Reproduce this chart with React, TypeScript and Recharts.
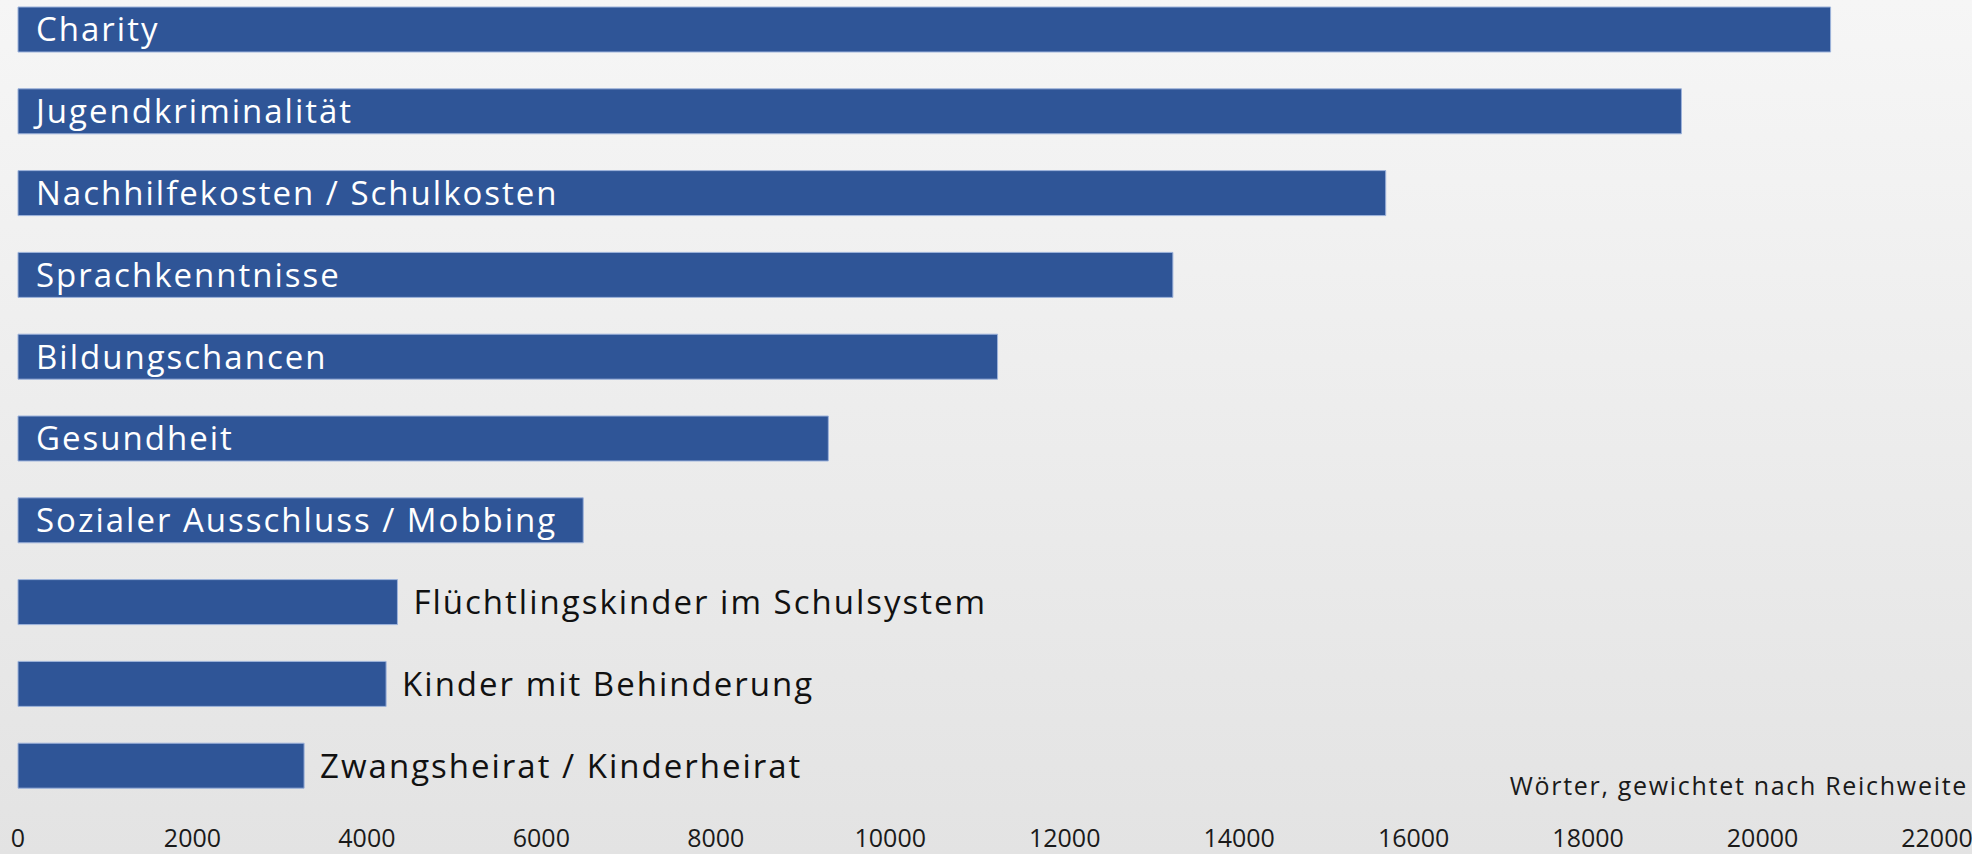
import { Bar, BarChart, LabelList, XAxis, YAxis } from 'recharts';

const CATEGORIES: string[] = [
  'Charity',
  'Jugendkriminalität',
  'Nachhilfekosten / Schulkosten',
  'Sprachkenntnisse',
  'Bildungschancen',
  'Gesundheit',
  'Sozialer Ausschluss / Mobbing',
  'Flüchtlingskinder im Schulsystem',
  'Kinder mit Behinderung',
  'Zwangsheirat / Kinderheirat'
];

const WORDS: number[] = [20780, 19070, 15680, 13240, 11230, 9290, 6480, 4350, 4220, 3280];

const X_TICKS: number[] = [0, 2000, 4000, 6000, 8000, 10000, 12000, 14000, 16000, 18000, 20000, 22000];

const AXIS_TITLE = 'Wörter, gewichtet nach Reichweite';

const data = CATEGORIES.map((name, i) => ({ name, value: WORDS[i] }));

const FONT = '"Open Sans", "DejaVu Sans", sans-serif';

function BarLabel(props: any) {
  const { x, y, width, height, value, index } = props;
  const inside = WORDS[index] >= 6000;
  const cy = y + height / 2;
  return (
    <text
      x={inside ? x + 18 : x + width + 16}
      y={cy}
      dy="0.36em"
      fill={inside ? '#ffffff' : '#111111'}
      fontSize={33}
      letterSpacing={2}
      fontFamily={FONT}
    >
      {value}
    </text>
  );
}

export default function App() {
  return (
    <div
      style={{
        position: 'absolute',
        left: 0,
        top: 0,
        width: 1972,
        height: 854,
        overflow: 'hidden',
        background: 'linear-gradient(to bottom, #f6f6f6 0%, #e3e3e3 100%)',
        fontFamily: FONT
      }}
    >
      <BarChart
        width={1972}
        height={854}
        layout="vertical"
        data={data}
        margin={{ top: -11, right: 35, bottom: 0, left: 18 }}
        barSize={45}
      >
        <XAxis
          type="number"
          domain={[0, 22000]}
          ticks={X_TICKS}
          interval={0}
          axisLine={false}
          tickLine={false}
          tickSize={0}
          tickMargin={22}
          height={47}
          tick={{ fill: '#1a1a1a', fontSize: 25, fontFamily: FONT }}
        />
        <YAxis type="category" dataKey="name" hide />
        <Bar dataKey="value" fill="#2F5597" stroke="#9DB3DB" strokeWidth={1} isAnimationActive={false}>
          <LabelList dataKey="name" content={<BarLabel />} />
        </Bar>
      </BarChart>
      <div
        style={{
          position: 'absolute',
          right: 4,
          top: 768,
          fontSize: 25,
          letterSpacing: 1.7,
          color: '#1a1a1a',
          whiteSpace: 'nowrap'
        }}
      >
        {AXIS_TITLE}
      </div>
    </div>
  );
}
